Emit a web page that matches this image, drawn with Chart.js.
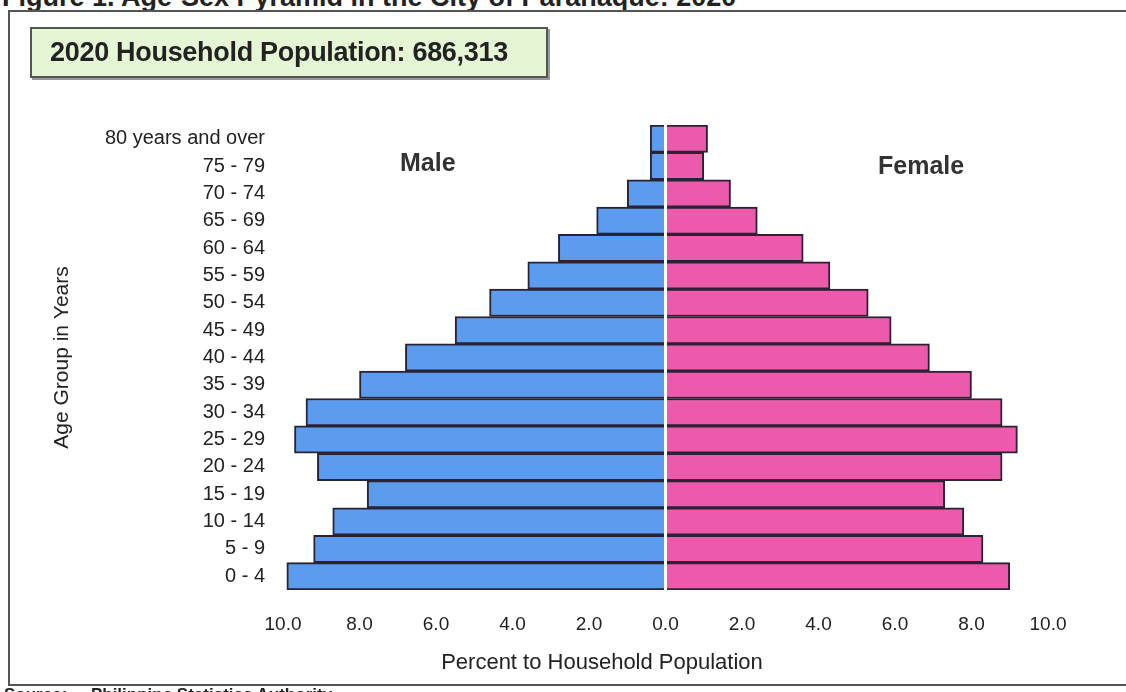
<!DOCTYPE html>
<html>
<head>
<meta charset="utf-8">
<script src="https://cdn.jsdelivr.net/npm/chart.js@4"></script>
<style>
  body { margin: 0; background: #fff; font-family: "Liberation Sans", Arial, sans-serif; }
  #wrap { position: relative; width: 1126px; height: 692px; overflow: hidden; }
  #pyramid { position: absolute; left: 0; top: 0; }
  .frame { position: absolute; left: 8px; top: 10px; width: 1200px; height: 672px; border: 2px solid #555; border-right: none; }
  .fig-title { position: absolute; left: 2px; top: -18px; font-size: 27px; font-weight: bold; color: #222; white-space: nowrap; }
  .source { position: absolute; left: 4px; top: 685px; font-size: 17px; font-weight: bold; color: #222; white-space: nowrap; }
  .pop-box { position: absolute; left: 30px; top: 27px; width: 496px; height: 47px; background: #e5f6d5; border: 2px solid #555; box-shadow: 2px 2px 0 #999; font-size: 27px; font-weight: bold; color: #222; line-height: 47px; padding-left: 18px; letter-spacing: -0.3px; }
  .sex { position: absolute; font-size: 25px; font-weight: bold; color: #333; }
  .x-title { position: absolute; left: 0; width: 1204px; top: 649px; text-align: center; font-size: 22px; color: #222; }
</style>
</head>
<body>
<div id="wrap">
  <div class="fig-title">Figure 1. Age-Sex Pyramid in the City of Parañaque: 2020</div>
  <div class="frame"></div>
  <canvas id="pyramid" width="1126" height="692"></canvas>
  <div class="pop-box">2020 Household Population: 686,313</div>
  <div class="sex" style="left:400px; top:148px;">Male</div>
  <div class="sex" style="left:878px; top:151px;">Female</div>
  <div class="x-title">Percent to Household Population</div>
  <div class="source">Source:&nbsp;&nbsp;&nbsp;&nbsp;&nbsp;Philippine Statistics Authority</div>
</div>
<script>
const ageGroups = [
  "80 years and over", "75 - 79", "70 - 74", "65 - 69", "60 - 64", "55 - 59",
  "50 - 54", "45 - 49", "40 - 44", "35 - 39", "30 - 34", "25 - 29",
  "20 - 24", "15 - 19", "10 - 14", "5 - 9", "0 - 4",
];
const maleValues = [0.4, 0.4, 1.0, 1.8, 2.8, 3.6, 4.6, 5.5, 6.8, 8.0, 9.4, 9.7, 9.1, 7.8, 8.7, 9.2, 9.9];
const femaleValues = [1.1, 1.0, 1.7, 2.4, 3.6, 4.3, 5.3, 5.9, 6.9, 8.0, 8.8, 9.2, 8.8, 7.3, 7.8, 8.3, 9.0];
const xTicks = [-10, -8, -6, -4, -2, 0, 2, 4, 6, 8, 10];

const textColor = "#222";
const edgeColor = "#2b2233";

new Chart(document.getElementById("pyramid"), {
  type: "bar",
  data: {
    labels: ageGroups,
    datasets: [
      {
        label: "Male",
        data: maleValues.map(v => -v),
        backgroundColor: "#5b9cef",
        borderColor: edgeColor,
        borderWidth: 2,
      },
      {
        label: "Female",
        data: femaleValues,
        backgroundColor: "#ee5aab",
        borderColor: edgeColor,
        borderWidth: 2,
      },
    ],
  },
  options: {
    indexAxis: "y",
    responsive: false,
    animation: false,
    barPercentage: 1,
    categoryPercentage: 1,
    layout: { padding: { left: 0, top: 125, right: 78, bottom: 12 } },
    plugins: { legend: { display: false }, tooltip: { enabled: false } },
    scales: {
      x: {
        stacked: true,
        min: -10,
        max: 10,
        z: 1,
        afterFit: s => { s.height = 90; },
        afterBuildTicks: s => { s.ticks = xTicks.map(v => ({ value: v })); },
        grid: {
          drawTicks: false,
          color: ctx => (ctx.tick && ctx.tick.value === 0 ? "#ffffff" : "transparent"),
          lineWidth: 3,
        },
        border: { display: false },
        ticks: {
          padding: 23,
          color: textColor,
          font: { family: "Liberation Sans", size: 19 },
          callback: v => Math.abs(v).toFixed(1),
        },
      },
      y: {
        stacked: true,
        afterFit: s => { s.width = 283; },
        grid: { display: false },
        border: { display: false },
        ticks: {
          autoSkip: false,
          padding: 10,
          color: textColor,
          font: { family: "Liberation Sans", size: 20 },
        },
        title: {
          display: true,
          text: "Age Group in Years",
          color: textColor,
          font: { family: "Liberation Sans", size: 21 },
          padding: { top: 50, bottom: 0 },
        },
      },
    },
  },
});
</script>
</body>
</html>
